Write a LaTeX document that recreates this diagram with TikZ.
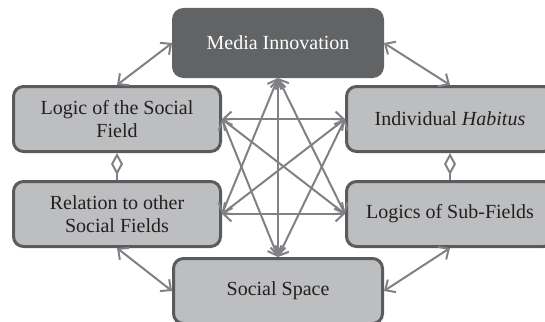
\documentclass[tikz,border=0pt]{standalone}
\usepackage{fontspec}
\setmainfont{Liberation Serif}
\usetikzlibrary{arrows.meta, positioning}
\definecolor{MI-dark}{HTML}{626365}
\definecolor{MI-light}{HTML}{BDBEC0}
\definecolor{MI-edge}{HTML}{5A5B5D}
\definecolor{MI-arrow}{HTML}{808184}
\definecolor{MI-text}{HTML}{231F20}

\begin{document}
\begin{tikzpicture}[x=1pt,y=-1pt,
  field/.style={fill=MI-light,draw=MI-edge,text=MI-text,rounded corners=10pt,align=center,minimum width=207pt,minimum height=65pt,line width=3pt,font=\fontsize{20}{23}\selectfont},
  media/.style={field,fill=MI-dark,draw=MI-dark,text=white,minimum width=209pt,minimum height=67pt},
  link/.style={{Straight Barb[length=8pt,width=15pt]}-{Straight Barb[length=8pt,width=15pt]},draw=MI-arrow,line width=2pt},
  kite/.style={-{Diamond[open,length=22pt,width=12pt]},draw=MI-arrow,line width=2pt}]
  \useasboundingbox (0,0) rectangle (545,321);
  \node[media] (Media) at (278,43) {Media Innovation};
  \node[field] (Logic) at (117,119) {Logic of the Social\\Field};
  \node[field] (Habitus) at (450,119) {Individual \textit{Habitus}};
  \node[field] (Relation) at (117,214) {Relation to other\\Social Fields};
  \node[field] (SubFields) at (450,214) {Logics of Sub-Fields};
  \node[field,minimum width=209pt] (Space) at (278,291) {Social Space};

  % outer ring
  \draw[link] (Media.west) -- (Logic.north);
  \draw[link] (Media.east) -- (Habitus.north);
  \draw[link] (Relation.south) -- (Space.west);
  \draw[link] (SubFields.south) -- (Space.east);
  \draw[kite] (Relation.north) -- (Logic.south);
  \draw[kite] (SubFields.north) -- (Habitus.south);

  % star in the middle
  \draw[link] (Media.south) -- (Space.north);
  \draw[link] (Logic.east) -- (Habitus.west);
  \draw[link] (Relation.east) -- (SubFields.west);
  \draw[link] (Logic.east) -- (SubFields.west);
  \draw[link] (Relation.east) -- (Habitus.west);
  \draw[link] (Media.south) -- (Relation.east);
  \draw[link] (Media.south) -- (SubFields.west);
  \draw[link] (Space.north) -- (Logic.east);
  \draw[link] (Space.north) -- (Habitus.west);
\end{tikzpicture}
\end{document}
